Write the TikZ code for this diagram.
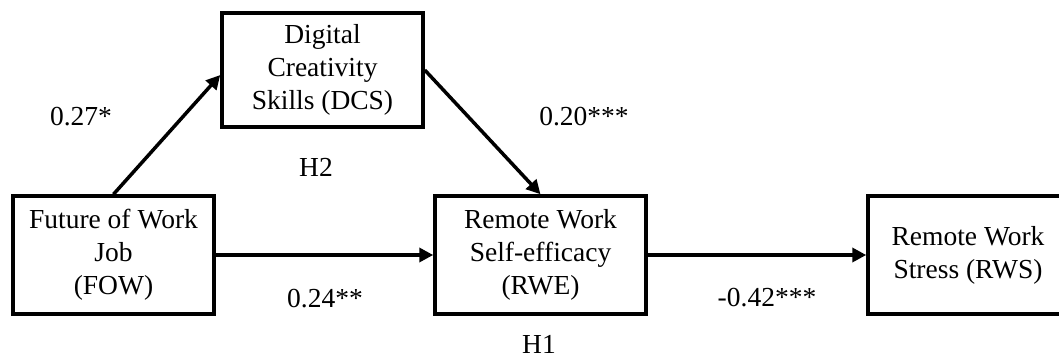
\documentclass[tikz,border=0pt]{standalone}
\usepackage{fontspec}
\setmainfont{Liberation Serif}
\usetikzlibrary{arrows.meta}
\begin{document}
\begin{tikzpicture}[x=1pt,y=-1pt,
  box/.style={draw=black,line width=3.5pt,rectangle,align=center,inner sep=0pt,
    font=\fontsize{27.5}{33}\selectfont},
  lbl/.style={inner sep=0pt,font=\fontsize{27.5}{33}\selectfont},
  conn/.style={line width=3.5pt,-{Triangle[length=14pt,width=14pt]}}]
\useasboundingbox (0,0) rectangle (1059,359);
\node[box,minimum width=201pt,minimum height=118pt] (FOW) at (113.5,255) {Future of Work\\Job\\(FOW)};
\node[box,minimum width=201pt,minimum height=114pt] (DCS) at (322.5,70) {Digital\\Creativity\\Skills (DCS)};
\node[box,minimum width=211pt,minimum height=118pt] (RWE) at (540.5,255) {Remote Work\\Self-efficacy\\(RWE)};
\node[box,minimum width=200pt,minimum height=118pt] (RWS) at (968,255) {Remote Work\\Stress (RWS)};
\draw[conn] (FOW.north) -- ([yshift=-5pt]DCS.west);
\draw[conn] (DCS.east) -- (RWE.north);
\draw[conn] (FOW.east) -- (RWE.west);
\draw[conn] (RWE.east) -- (RWS.west);
\node[lbl] (l27) at (81,117) {0.27*};
\node[lbl] (h2) at (316,167) {H2};
\node[lbl] (l24) at (325,299) {0.24**};
\node[lbl] (l20) at (584,117) {0.20***};
\node[lbl] (l42) at (767,298) {-0.42***};
\node[lbl] (h1) at (539,344) {H1};
\end{tikzpicture}
\end{document}
